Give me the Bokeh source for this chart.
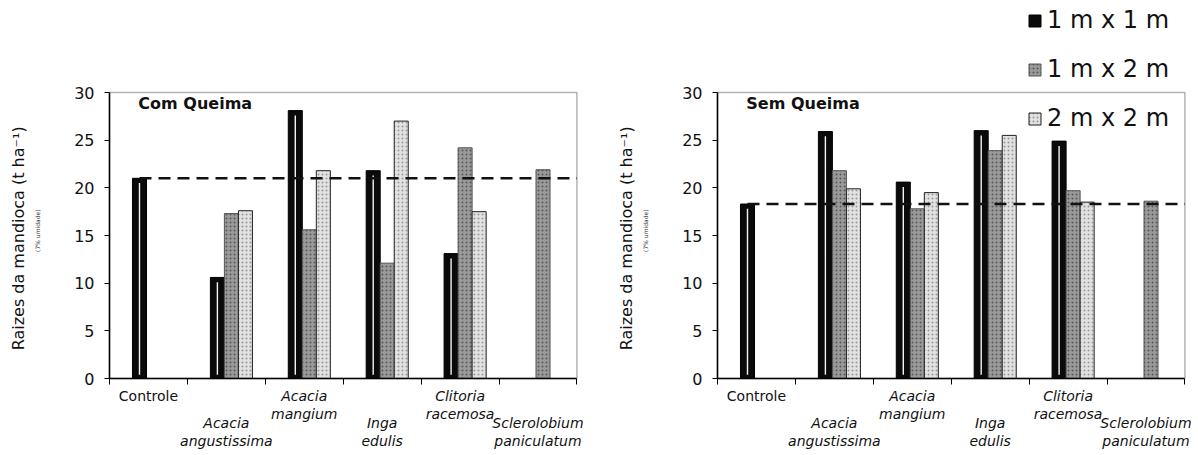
import math
from bokeh.plotting import figure
from bokeh.models import (ColumnDataSource, Range1d, FixedTicker, BoxAnnotation,
                          Label, Legend, LegendItem)
from bokeh.layouts import row
from bokeh.transform import dodge
from bokeh.embed import file_html
from bokeh.resources import INLINE

nan = float("nan")

categories = ["Controle", "Acacia angustissima", "Acacia mangium", "Inga edulis",
              "Clitoria racemosa", "Sclerolobium paniculatum"]
label_line1 = ["Controle", "Acacia", "Acacia", "Inga", "Clitoria", "Sclerolobium"]
label_line2 = ["", "angustissima", "mangium", "edulis", "racemosa", "paniculatum"]
label_lower = [False, True, False, True, False, True]
label_italic = [False, True, True, True, True, True]

series_names = ["1 m x 1 m", "1 m x 2 m", "2 m x 2 m"]

com_1x1 = [21.0, 10.6, 28.1, 21.8, 13.1, nan]
com_1x2 = [nan, 17.3, 15.6, 12.1, 24.2, 21.9]
com_2x2 = [nan, 17.6, 21.8, 27.0, 17.5, nan]

sem_1x1 = [18.3, 25.9, 20.6, 26.0, 24.9, nan]
sem_1x2 = [nan, 21.8, 17.8, 23.9, 19.7, 18.6]
sem_2x2 = [nan, 19.9, 19.5, 25.5, 18.5, nan]

FONT = "DejaVu Sans"
N = len(categories)
YMAX = 30

# layout (pixels)
FIG_H = 452
BOX_TOP, BOX_BOTTOM = 92, 378      # y of value 30 and value 0, from figure top
PX_PER_CAT = 77.9


def make_chart(title, v11, v12, v22, fig_w, box_left, legend=False):
    px_per_val = (BOX_BOTTOM - BOX_TOP) / YMAX
    x_start = -box_left / PX_PER_CAT
    x_end = (fig_w - box_left) / PX_PER_CAT
    y_end = BOX_BOTTOM / px_per_val
    y_start = -(FIG_H - BOX_BOTTOM) / px_per_val

    centers = [i + 0.5 for i in range(N)]
    src = ColumnDataSource(dict(cat=categories, pos=centers, v11=v11, v12=v12, v22=v22,
                                s_top=[v - 0.5 for v in v11]))
    p = figure(x_range=Range1d(x_start, x_end), y_range=Range1d(y_start, y_end),
               width=fig_w, height=FIG_H, output_backend="svg", toolbar_location=None,
               min_border=0)
    p.background_fill_color = "white"
    p.border_fill_color = "white"
    p.outline_line_color = None
    p.grid.grid_line_color = None

    r1 = p.vbar(x=dodge("pos", -0.115), top="v11", width=0.18, source=src,
                fill_color="#0a0a0a", line_color="#000000", line_width=1)
    p.vbar(x=dodge("pos", -0.115), bottom=0.4, top="s_top", width=0.018,
           source=src, fill_color="#f4f4f4", line_color=None)
    r2 = p.vbar(x=dodge("pos", 0.065), top="v12", width=0.18, source=src,
                fill_color="#9a9a9a", line_color="#555555", line_width=1,
                hatch_pattern=".", hatch_color="#3a3a3a", hatch_alpha=0.7, hatch_scale=4)
    r3 = p.vbar(x=dodge("pos", 0.245), top="v22", width=0.18, source=src,
                fill_color="#e2e2e2", line_color="#222222", line_width=1,
                hatch_pattern=".", hatch_color="#777777", hatch_alpha=0.7, hatch_scale=4)

    # dashed reference line at the Controle value
    ctrl = v11[0]
    p.segment(x0=[centers[0] - 0.115], x1=[N], y0=[ctrl], y1=[ctrl],
              line_color="#111111", line_width=2.5, line_dash="12 7")

    # plot box
    p.add_layout(BoxAnnotation(left=0, right=N, bottom=0, top=YMAX, fill_alpha=0,
                               line_color="black", line_width=1.5))

    # y axis
    ya = p.yaxis[0]
    ya.fixed_location = 0
    ya.bounds = (0, YMAX)
    ya.ticker = FixedTicker(ticks=[0, 5, 10, 15, 20, 25, 30])
    ya.minor_tick_line_color = None
    ya.major_tick_in = 0
    ya.major_tick_out = 5
    ya.major_label_standoff = 10
    ya.axis_line_width = 1.5
    ya.major_label_text_font = FONT
    ya.major_label_text_font_size = "16px"
    ya.major_label_text_color = "#111111"

    # x axis: ticks at category boundaries
    xa = p.xaxis[0]
    xa.fixed_location = 0
    xa.bounds = (0, N)
    xa.ticker = FixedTicker(ticks=list(range(N + 1)))
    xa.major_label_overrides = {i: "" for i in range(N + 1)}
    xa.major_tick_in = 0
    xa.major_tick_out = 6
    xa.minor_tick_line_color = None
    xa.axis_line_width = 1.5

    def px_to_y(px_below_zero):
        return -px_below_zero / px_per_val

    for i in range(N):
        style = "italic" if label_italic[i] else "normal"
        y1, y2 = (px_to_y(44), px_to_y(62)) if label_lower[i] else (px_to_y(17), px_to_y(35))
        for txt, yy in ((label_line1[i], y1), (label_line2[i], y2)):
            if txt:
                p.add_layout(Label(x=centers[i], y=yy, text=txt,
                                   text_align="center", text_baseline="middle",
                                   text_font=FONT, text_font_size="14px",
                                   text_font_style=style, text_color="#111111"))

    # y axis title
    p.add_layout(Label(x=box_left - 91, y=14.7, x_units="screen",
                       text="Raizes da mandioca (t ha\u207b\u00b9)",
                       angle=math.pi / 2, text_align="center", text_baseline="middle",
                       text_font=FONT, text_font_size="16px", text_color="#111111"))
    # tiny unit note
    p.add_layout(Label(x=box_left - 72, y=15.5, x_units="screen", text="(7% umidade)",
                       angle=math.pi / 2, text_align="center", text_baseline="middle",
                       text_font=FONT, text_font_size="6px", text_color="#333333"))

    # panel title
    p.add_layout(Label(x=0.37, y=28.85, text=title, text_baseline="middle",
                       text_font=FONT, text_font_size="16px", text_font_style="bold",
                       text_color="#111111"))

    if legend:
        lg = Legend(items=[LegendItem(label=series_names[0], renderers=[r1]),
                           LegendItem(label=series_names[1], renderers=[r2]),
                           LegendItem(label=series_names[2], renderers=[r3])],
                    location=(box_left + 310, FIG_H - 132),
                    label_text_font=FONT, label_text_font_size="24px",
                    label_text_color="#111111", glyph_width=15, glyph_height=15,
                    label_height=24, spacing=21, padding=0, margin=0, label_standoff=5,
                    border_line_color=None, background_fill_alpha=0)
        p.add_layout(lg)
    return p


p1 = make_chart("Com Queima", com_1x1, com_1x2, com_2x2, 590, 109)
p2 = make_chart("Sem Queima", sem_1x1, sem_1x2, sem_2x2, 608, 127, legend=True)

layout = row(p1, p2)
open("out.html", "w").write(file_html(layout, INLINE))
